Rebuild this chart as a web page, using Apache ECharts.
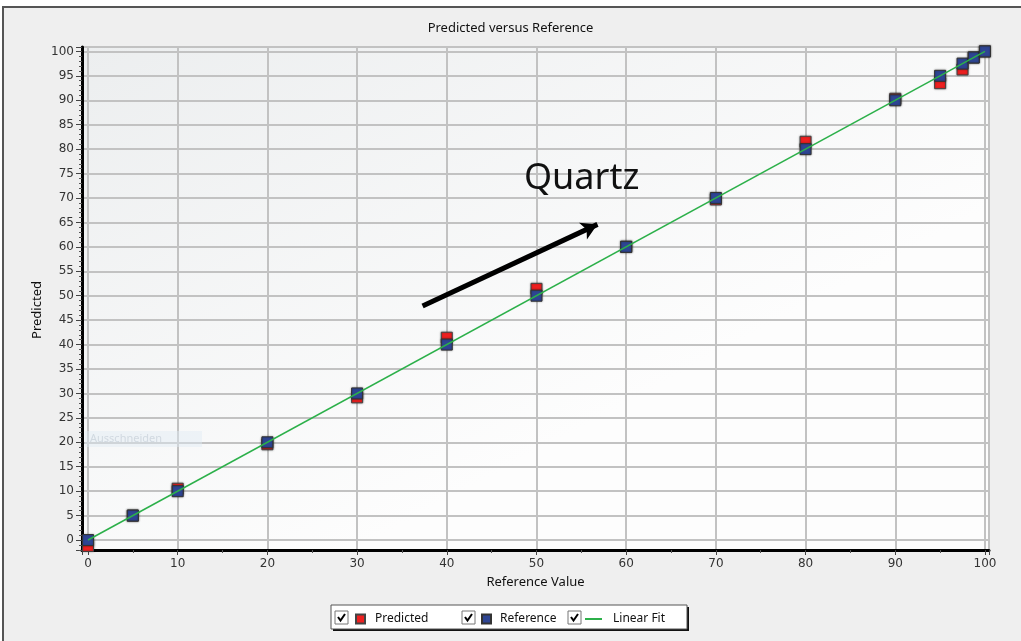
<!DOCTYPE html>
<html>
<head>
<meta charset="utf-8">
<script src="https://cdn.jsdelivr.net/npm/echarts@6/dist/echarts.min.js"></script>
<style>
html,body{margin:0;padding:0;background:#ffffff;}
#chart{width:1021px;height:641px;}
</style>
</head>
<body>
<div id="chart"></div>
<script>
// ---- data ----
const referenceValues = [0, 5, 10, 20, 30, 40, 50, 60, 70, 80, 90, 95, 97.5, 98.75, 100];
const predictedValues = [-1.2, 5, 10.5, 19.6, 29.2, 41.4, 51.4, 60, 69.7, 81.5, 90.3, 93.5, 96.3, 98.75, 100];
const fitX = [0, 100];
const fitY = [0, 100];
const seriesNames = ['Predicted', 'Reference', 'Linear Fit'];
const arrowStart = [37.3, 47.9];
const arrowEnd = [56.8, 64.6];
const annotationText = 'Quartz';

const predictedData = referenceValues.map((x, i) => [x, predictedValues[i]]);
const referenceData = referenceValues.map((x) => [x, x]);
const fitData = fitX.map((x, i) => [x, fitY[i]]);

const chart = echarts.init(document.getElementById('chart'));

function checkbox(x, y) {
  return [
    { type: 'rect', z: 20, silent: true, shape: { x: x, y: y, width: 13, height: 13 },
      style: { fill: '#ffffff', stroke: '#777777', lineWidth: 1 } },
    { type: 'polyline', z: 21, silent: true,
      shape: { points: [[x + 3, y + 6], [x + 5.5, y + 9.5], [x + 10, y + 3]] },
      style: { fill: null, stroke: '#000000', lineWidth: 2 } }
  ];
}

const legendText = { fontFamily: 'Noto Sans', fontSize: 12, color: '#111', padding: [0, 0, 0, 5] };

const option = {
  backgroundColor: '#ffffff',
  animation: false,
  title: {
    text: 'Predicted versus Reference',
    left: 'center', top: 17,
    textStyle: { fontFamily: 'Noto Sans', fontSize: 13, fontWeight: 'normal', color: '#111' }
  },
  graphic: [
    { type: 'rect', z: -10, silent: true,
      shape: { x: 3, y: 7, width: 1030, height: 640 },
      style: { fill: '#efefef', stroke: '#555555', lineWidth: 2 } },
    { type: 'rect', z: 1, silent: true,
      shape: { x: 85, y: 431, width: 117, height: 16 },
      style: { fill: 'rgba(225,235,245,0.45)' } },
    { type: 'text', z: 1, silent: true, x: 90, y: 433,
      style: { text: 'Ausschneiden', fontFamily: 'Noto Sans', fontSize: 11, fill: 'rgba(190,200,210,0.6)' } },
    { type: 'text', silent: true, x: 37, y: 310, rotation: Math.PI / 2,
      style: { text: 'Predicted', fontFamily: 'Noto Sans', fontSize: 13, fill: '#111',
               align: 'center', verticalAlign: 'middle' } },
    { type: 'text', silent: true, z: 10, x: 524, y: 161,
      style: { text: annotationText, fontFamily: 'Noto Sans', fontSize: 36, fill: '#111' } },
    { type: 'rect', silent: true, z: 5,
      shape: { x: 333, y: 607, width: 356, height: 24 },
      style: { fill: '#111111' } },
    { type: 'rect', silent: true, z: 6,
      shape: { x: 331, y: 605, width: 356, height: 24 },
      style: { fill: '#ffffff', stroke: '#555555', lineWidth: 1 } }
  ].concat(checkbox(335, 611), checkbox(462, 611), checkbox(568, 611)),
  legend: [
    { data: [seriesNames[0]], left: 355, top: 613, padding: 0, itemWidth: 9, itemHeight: 9, icon: 'rect',
      textStyle: legendText, selectedMode: false, z: 8 },
    { data: [seriesNames[1]], left: 481, top: 613, padding: 0, itemWidth: 9, itemHeight: 9, icon: 'rect',
      textStyle: Object.assign({}, legendText, { padding: [0, 0, 0, 4] }), selectedMode: false, z: 8 },
    { data: [seriesNames[2]], left: 585, top: 613, padding: 0, itemWidth: 17, itemHeight: 2, icon: 'rect',
      textStyle: Object.assign({}, legendText, { padding: [0, 0, 0, 6] }), selectedMode: false, z: 8 }
  ],
  grid: {
    left: 82, right: 32, top: 47, bottom: 91,
    show: true,
    borderColor: '#4a4a4a', borderWidth: 2,
    backgroundColor: {
      type: 'linear', x: 0, y: 0, x2: 0.3, y2: 1,
      colorStops: [{ offset: 0, color: '#eceeef' }, { offset: 1, color: '#fdfdfd' }]
    }
  },
  xAxis: {
    type: 'value',
    min: -0.67, max: 100.45,
    splitNumber: 10,
    name: 'Reference Value',
    nameLocation: 'middle', nameGap: 26,
    nameTextStyle: { fontFamily: 'Noto Sans', fontSize: 13, color: '#111' },
    axisLine: { show: true, onZero: false, lineStyle: { color: '#000', width: 3 } },
    axisTick: { show: true, length: 5, lineStyle: { color: '#444', width: 1 } },
    minorTick: { show: true, splitNumber: 2, length: 3, lineStyle: { color: '#555' } },
    axisLabel: {
      fontFamily: 'DejaVu Sans', fontSize: 12, color: '#333', margin: 8,
      showMinLabel: true, showMaxLabel: true,
      formatter: (v) => (Math.abs(v % 10) < 1e-9 ? String(v) : '')
    },
    splitLine: { show: true, lineStyle: { color: '#c2c2c2', width: 2 } }
  },
  yAxis: {
    type: 'value',
    min: -2.04, max: 100.9,
    splitNumber: 20,
    axisLine: { show: true, onZero: false, lineStyle: { color: '#000', width: 3 } },
    axisTick: { show: true, length: 6, lineStyle: { color: '#444', width: 1 } },
    minorTick: { show: true, splitNumber: 5, length: 3, lineStyle: { color: '#555' } },
    axisLabel: {
      fontFamily: 'DejaVu Sans', fontSize: 12, color: '#333', margin: 8,
      formatter: (v) => (Math.abs(v % 5) < 1e-9 ? String(v) : '')
    },
    splitLine: { show: true, lineStyle: { color: '#c2c2c2', width: 2 } }
  },
  series: [
    {
      name: seriesNames[0], type: 'scatter', data: predictedData,
      symbol: 'rect', symbolSize: 11, z: 3,
      itemStyle: { color: '#ee2020', opacity: 1, borderColor: '#444', borderWidth: 1,
                   shadowBlur: 2, shadowColor: 'rgba(0,0,0,0.35)' }
    },
    {
      name: seriesNames[1], type: 'scatter', data: referenceData,
      symbol: 'rect', symbolSize: 11, z: 4,
      itemStyle: { color: '#2e4593', opacity: 1, borderColor: '#333', borderWidth: 1,
                   shadowBlur: 2, shadowColor: 'rgba(0,0,0,0.35)' }
    },
    {
      name: seriesNames[2], type: 'line', data: fitData,
      showSymbol: false, symbol: 'none', z: 5,
      itemStyle: { color: '#2cb04a' },
      lineStyle: { color: '#2cb04a', width: 1.5 },
      markLine: {
        silent: true, symbol: ['none', 'arrow'], symbolSize: [14, 16],
        label: { show: false },
        lineStyle: { color: '#000', width: 5, type: 'solid' },
        data: [[{ coord: arrowStart }, { coord: arrowEnd }]]
      }
    }
  ]
};
chart.setOption(option);
</script>
</body>
</html>
